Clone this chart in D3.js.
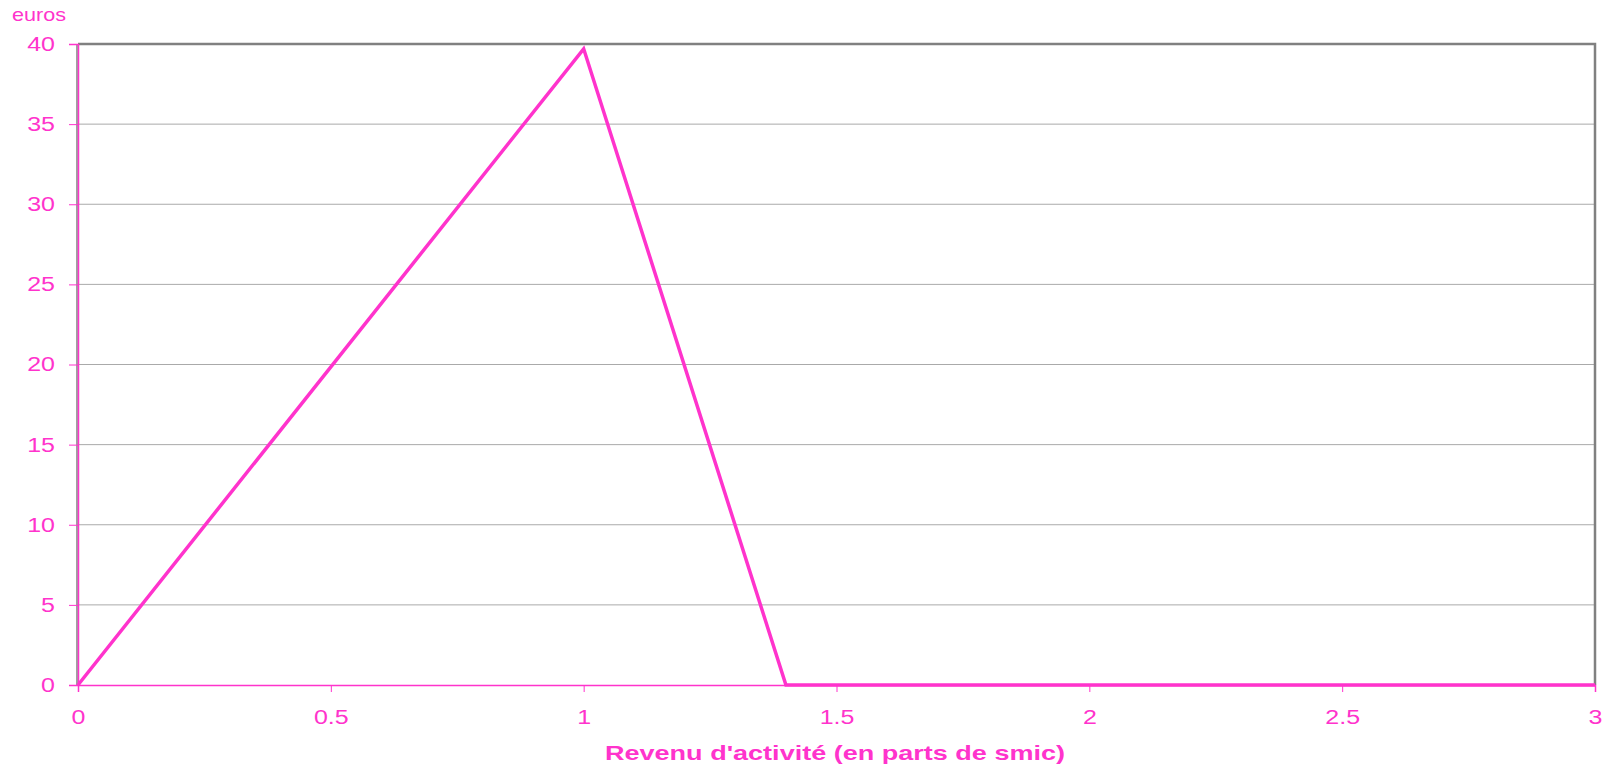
<!DOCTYPE html>
<html><head><meta charset="utf-8">
<script src="https://cdn.jsdelivr.net/npm/d3@7"></script>
<style>body{margin:0;background:#fff}svg{display:block}</style>
</head><body><svg id="c" width="1614" height="765"></svg>
<script>
const xValues = [0, 1, 1.4, 3];
const yValues = [0, 39.7, 0, 0];
const xTicks = [0, 0.5, 1, 1.5, 2, 2.5, 3];
const yTicks = [0, 5, 10, 15, 20, 25, 30, 35, 40];
const xTitle = "Revenu d'activité (en parts de smic)";
const yUnit = "euros";

const pink = "#ff33cc";
const svg = d3.select("#c");
const L = 78, R = 1595, T = 44, B = 685;
const x = d3.scaleLinear().domain([0, 3]).range([L, R]);
const y = d3.scaleLinear().domain([0, 40]).range([B, T]);

// gridlines
svg.append("g").selectAll("line").data(yTicks.filter(d => d > 0 && d < 40)).join("line")
  .attr("x1", L).attr("x2", R).attr("y1", d => y(d)).attr("y2", d => y(d))
  .attr("stroke", "#aaaaaa").attr("stroke-width", 1);

// frame top/right
svg.append("path").attr("d", `M${L},${T}H${R}V${B}`).attr("fill", "none")
  .attr("stroke", "#808080").attr("stroke-width", 2.5);
svg.append("line").attr("x1", L - 1).attr("x2", L - 1).attr("y1", T).attr("y2", B).attr("stroke", "#808080").attr("stroke-width", 1.5);

const fontFam = "Arial, 'Liberation Sans', sans-serif";
// axes
const yAxis = d3.axisLeft(y).tickValues(yTicks).tickSize(9).tickPadding(14).tickFormat(d3.format("d"));
const gy = svg.append("g").attr("transform", `translate(${L},0)`).call(yAxis);
const xAxis = d3.axisBottom(x).tickValues(xTicks).tickSize(7).tickPadding(22).tickFormat(d => String(d));
const gx = svg.append("g").attr("transform", `translate(0,${B})`).call(xAxis);
[gy, gx].forEach(g => {
  g.select(".domain").attr("stroke", pink).attr("stroke-width", 1.5);
  g.selectAll(".tick line").attr("stroke", pink).attr("stroke-width", 1);
  g.selectAll(".tick text").attr("fill", pink).attr("font-family", fontFam).attr("font-size", 20)
    .each(function() {
      const w = this.getComputedTextLength();
      d3.select(this).attr("textLength", w * 1.25).attr("lengthAdjust", "spacingAndGlyphs");
    });
});
gx.selectAll(".tick text").attr("dy", "0.5em");

// data line
const line = d3.line().x((d, i) => x(xValues[i])).y(d => y(d));
svg.append("path").datum(yValues).attr("d", line).attr("fill", "none")
  .attr("stroke", pink).attr("stroke-width", 3.5).attr("stroke-linejoin", "miter");

// labels
svg.append("text").attr("x", 12).attr("y", 21).text(yUnit).attr("fill", pink)
  .attr("font-family", fontFam).attr("font-size", 19).attr("textLength", 54).attr("lengthAdjust", "spacingAndGlyphs");
svg.append("text").attr("x", 605).attr("y", 760).text(xTitle).attr("fill", pink)
  .attr("font-family", fontFam).attr("font-size", 21).attr("font-weight", "bold")
  .attr("textLength", 460).attr("lengthAdjust", "spacingAndGlyphs");
</script></body></html>
